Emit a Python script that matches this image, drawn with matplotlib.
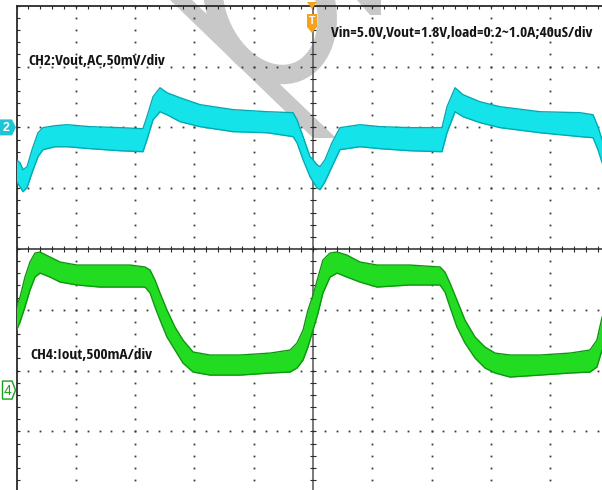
import numpy as np
import matplotlib
matplotlib.use("Agg")
import matplotlib.pyplot as plt
from matplotlib.patches import Polygon, Ellipse
from matplotlib import font_manager
from matplotlib.font_manager import FontProperties
from matplotlib.textpath import TextPath

# ---------------- scope settings ----------------
time_per_div_us = 40.0
ch2_mV_per_div = 50.0
ch4_mA_per_div = 500.0
ch2_ref_div = 2.0
ch4_ref_div = -2.32

# ---------------- CH2 : Vout (AC), band envelope in mV ----------------
ch2_time_us = [-200, -197.6, -195.6, -192.9, -189.5, -185.5, -182.1, -174.0, -165.9, -150.4,
               -130.2, -114.7, -112.0, -107.9, -103.2, -98.5, -89.7, -76.2, -54.0, -31.0,
               -13.5, -10.8, -6.7, -2.0, 0, 2.7, 4.7, 8.1, 12.8, 18.2,
               31.7, 45.2, 65.4, 87.0, 90.4, 95.8, 101.2, 112.6, 126.1, 153.1,
               180.1, 188.9, 192.2, 195.0]
ch2_upper_mV = [-26.6, -29.2, -34.8, -32.3, -18.3, -4.4, -0.2, 1.4, 2.2, 0.6,
                -0.2, -1.1, 8.8, 25.2, 32.6, 28.5, 24.4, 18.7, 14.6, 12.9,
                12.1, 6.3, -7.6, -24.1, -26.6, -30.7, -32.3, -26.6, -12.6, -0.2,
                2.2, 0.6, -0.2, -0.2, 17.0, 32.6, 26.9, 21.1, 17.0, 12.9,
                12.1, 10.4, 0.6, -10.1]
ch2_lower_mV = [-44.7, -48.9, -52.9, -49.5, -37.3, -24.1, -18.3, -15.9, -15.9, -17.5,
                -19.2, -20.0, -10.1, 6.3, 12.9, 10.4, 4.7, 0.6, -3.5, -4.4,
                -7.6, -12.6, -26.6, -40.5, -44.7, -49.6, -51.2, -44.7, -32.3, -18.3,
                -15.9, -17.5, -19.2, -20.0, -4.4, 12.9, 8.8, 3.9, -0.2, -4.4,
                -7.6, -8.5, -18.3, -29.0]

# ---------------- CH4 : Iout, band envelope in mA ----------------
ch4_time_us = [-200, -197.6, -194.3, -190.9, -187.5, -184.1, -177.4, -170.6, -159.2, -143.7,
               -123.4, -113.3, -109.9, -106.6, -103.2, -98.5, -93.1, -87.7, -80.9, -69.5,
               -49.2, -29.0, -15.5, -10.8, -6.7, -3.4, 0, 3.4, 6.7, 11.5,
               16.2, 22.9, 31.7, 43.2, 65.4, 85.7, 89.0, 92.4, 97.1, 102.5,
               109.3, 116.0, 122.8, 132.9, 153.1, 173.3, 186.8, 191.5, 195.0]
ch4_upper_mA = [683, 765, 929, 1053, 1127, 1135, 1094, 1053, 1028, 1028,
                1028, 1012, 987, 905, 798, 658, 518, 411, 313, 288,
                288, 304, 329, 387, 493, 658, 781, 929, 1069, 1127,
                1135, 1110, 1053, 1028, 1028, 1012, 970, 880, 740, 576,
                436, 354, 304, 288, 288, 304, 329, 411, 600]
ch4_lower_mA = [493, 559, 683, 822, 929, 962, 929, 888, 864, 847,
                847, 847, 798, 683, 576, 436, 329, 222, 148, 123,
                123, 140, 148, 181, 247, 354, 493, 633, 798, 929,
                962, 929, 888, 847, 864, 864, 806, 683, 518, 387,
                263, 181, 140, 107, 123, 140, 148, 189, 329]

label_ch2 = "CH2:Vout,AC,50mV/div"
label_ch4 = "CH4:Iout,500mA/div"
label_cond = "Vin=5.0V,Vout=1.8V,load=0.2~1.0A;40uS/div"

# ---------------- figure geometry (pixels) ----------------
W, H = 602, 490
x_center_px, px_per_div_x = 313.0, 59.3
y_center_px, px_per_div_y = 249.0, 60.8
xmin, ymax = -5.0, 4.0
xmax = (W - x_center_px) / px_per_div_x
ymin = -(H - y_center_px) / px_per_div_y
left_px = x_center_px + xmin * px_per_div_x
top_px = y_center_px - ymax * px_per_div_y

fig = plt.figure(figsize=(W / 100, H / 100), dpi=100)
fig.patch.set_facecolor("white")

# watermark layer (pixel coordinates)
wax = fig.add_axes([0, 0, 1, 1], zorder=0)
wax.set_xlim(0, W); wax.set_ylim(H, 0); wax.axis("off")
wm = "#c8c8c8"
wax.add_patch(Polygon([(170, 0), (192, 0), (336, 138), (313, 138)], closed=True,
                      facecolor=wm, edgecolor="none"))
wax.add_patch(Ellipse((270, 3), 108, 148, angle=-22, fill=False, edgecolor=wm, linewidth=14))
wax.add_patch(Polygon([(357, 0), (381, 0), (381, 15), (370, 15)], closed=True,
                      facecolor=wm, edgecolor="none"))

# main scope axes (divisions)
ax = fig.add_axes([left_px / W, 0, 1 - left_px / W, (H - top_px) / H], zorder=1)
ax.set_facecolor("none")
ax.set_xlim(xmin, xmax); ax.set_ylim(ymin, ymax)
ax.set_xticks([]); ax.set_yticks([])
for s in ["right", "bottom"]:
    ax.spines[s].set_visible(False)
for s in ["left", "top"]:
    ax.spines[s].set_color("#2a2a2a"); ax.spines[s].set_linewidth(1.3)

grid_col = "#3a3a3a"
ys = np.arange(-20, 21) * 0.2
xs = np.arange(-25, 26) * 0.2
for gx in range(-4, 5):
    if gx == 0:
        continue
    ax.plot(np.full_like(ys, gx), ys, ls="none", marker="s", ms=1.3, mew=0, color=grid_col, zorder=2)
for gy in range(-3, 4):
    if gy == 0:
        continue
    ax.plot(xs, np.full_like(xs, gy), ls="none", marker="s", ms=1.3, mew=0, color=grid_col, zorder=2)

ax.axhline(0, color="#2a2a2a", lw=1.1, zorder=2)
ax.axvline(0, color="#555555", lw=1.1, zorder=2)
ax.plot(xs, np.zeros_like(xs), ls="none", marker="|", ms=4.5, mew=0.8, color="#2a2a2a", zorder=2)
ax.plot(np.zeros_like(ys), ys, ls="none", marker="_", ms=4.0, mew=0.8, color="#2a2a2a", zorder=2)
ax.plot(np.full_like(ys, xmin + 1.5 / px_per_div_x), ys, ls="none", marker="_", ms=2.4, mew=0.8,
        color="#2a2a2a", zorder=2)
ax.plot(xs, np.full_like(xs, ymax - 1.5 / px_per_div_y), ls="none", marker="|", ms=2.4, mew=0.8,
        color="#2a2a2a", zorder=2)

# waveforms
t2 = np.array(ch2_time_us) / time_per_div_us
ax.fill_between(t2, ch2_ref_div + np.array(ch2_lower_mV) / ch2_mV_per_div,
                ch2_ref_div + np.array(ch2_upper_mV) / ch2_mV_per_div,
                color="#14e4ea", lw=0, zorder=3)
ax.plot(t2, ch2_ref_div + np.array(ch2_upper_mV) / ch2_mV_per_div, color="#00a9b4", lw=1.0, zorder=4)
ax.plot(t2, ch2_ref_div + np.array(ch2_lower_mV) / ch2_mV_per_div, color="#00a9b4", lw=1.0, zorder=4)

t4 = np.array(ch4_time_us) / time_per_div_us
ax.fill_between(t4, ch4_ref_div + np.array(ch4_lower_mA) / ch4_mA_per_div,
                ch4_ref_div + np.array(ch4_upper_mA) / ch4_mA_per_div,
                color="#22dc22", lw=0, zorder=3)
ax.plot(t4, ch4_ref_div + np.array(ch4_upper_mA) / ch4_mA_per_div, color="#0f960f", lw=1.0, zorder=4)
ax.plot(t4, ch4_ref_div + np.array(ch4_lower_mA) / ch4_mA_per_div, color="#0f960f", lw=1.0, zorder=4)

# overlay layer (pixel coordinates): markers and labels
oax = fig.add_axes([0, 0, 1, 1], zorder=2)
oax.set_xlim(0, W); oax.set_ylim(H, 0); oax.axis("off"); oax.set_facecolor("none")

y2 = y_center_px - ch2_ref_div * px_per_div_y
oax.add_patch(Polygon([(0, y2 - 8), (12, y2 - 8), (16, y2), (12, y2 + 8), (0, y2 + 8)],
                      closed=True, facecolor="#1cc6d6", edgecolor="none"))
oax.text(6.5, y2 + 0.5, "2", color="white", fontsize=9, fontweight="bold", ha="center", va="center",
         family="Liberation Sans")
y4 = y_center_px - ch4_ref_div * px_per_div_y
oax.add_patch(Polygon([(2.5, y4 - 9), (12, y4 - 9), (15.5, y4), (12, y4 + 9), (2.5, y4 + 9)],
                      closed=True, facecolor="white", edgecolor="#1a9e1a", linewidth=1.0))
oax.text(8, y4 + 0.5, "4", color="#1a9e1a", fontsize=10, ha="center", va="center",
         family="Liberation Sans")

orange = "#f6a21e"
tx = x_center_px - 1
oax.add_patch(Polygon([(tx - 5, 2), (tx + 5, 2), (tx, 9)], closed=True, facecolor=orange, edgecolor="none"))
oax.add_patch(Polygon([(tx - 5, 14), (tx + 5, 14), (tx + 5, 27), (tx, 33), (tx - 5, 27)],
                      closed=True, facecolor=orange, edgecolor="none"))
oax.text(tx, 21.5, "T", color="white", fontsize=7.5, fontweight="bold", ha="center", va="center",
         family="Liberation Sans")

# choose a (condensed) sans font whose width/cap-height ratio best matches the labels
target_w, target_cap = 261.0, 12.5
allowed = ("Liberation Sans", "Roboto", "Open Sans", "Noto Sans", "DejaVu Sans", "Arial")
cands, seen = [], set()
for f in font_manager.fontManager.ttflist:
    if f.fname in seen or f.style != "normal":
        continue
    n = f.name
    if not n.startswith(allowed) or "Mono" in n or "CJK" in n:
        continue
    if n.startswith("Noto Sans") and not (n == "Noto Sans" or "Cond" in n):
        continue
    try:
        wt = int(f.weight)
    except Exception:
        wt = 400
    if wt < 380 or wt > 720:
        continue
    seen.add(f.fname)
    cands.append((f.fname, wt))
cands = cands[:60]
best = None
for fname, wt in cands:
    try:
        p = FontProperties(fname=fname, size=50)
        wext = TextPath((0, 0), label_cond, prop=p).get_extents().width
        hext = TextPath((0, 0), "H", prop=p).get_extents().height
    except Exception:
        continue
    if hext <= 0:
        continue
    score = abs(wext / hext - target_w / target_cap) + 0.004 * abs(wt - 600)
    if best is None or score < best[0]:
        best = (score, fname, wext)
if best is not None:
    fp = FontProperties(fname=best[1])
    fs_pt = 50 * target_w / best[2] * 0.72
else:
    fp = FontProperties(family="Liberation Sans")
    fs_pt = 9.5

txt_col = "#141414"
oax.text(331, 33, label_cond, fontproperties=fp, fontsize=fs_pt, color=txt_col, ha="left", va="center")
oax.text(28, 61, label_ch2, fontproperties=fp, fontsize=fs_pt, color=txt_col, ha="left", va="center")
oax.text(30, 355, label_ch4, fontproperties=fp, fontsize=fs_pt, color=txt_col, ha="left", va="center")

fig.savefig("out.png", dpi=100, facecolor="white")
